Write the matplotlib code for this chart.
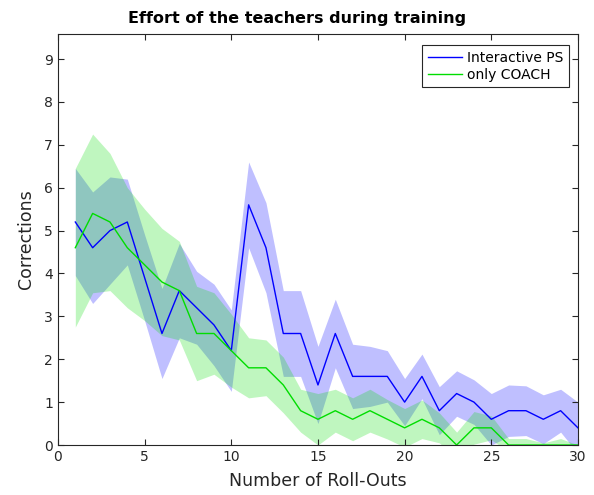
import numpy as np
import matplotlib
matplotlib.use('Agg')
import matplotlib.pyplot as plt

# roll-out index
rollouts = np.arange(1, 31)

# Interactive PS: mean corrections and spread
ips_mean = [5.2, 4.6, 5.0, 5.2, 3.9, 2.6, 3.6, 3.2, 2.8, 2.2,
            5.6, 4.6, 2.6, 2.6, 1.4, 2.6, 1.6, 1.6, 1.6, 1.0,
            1.6, 0.8, 1.2, 1.0, 0.6, 0.8, 0.8, 0.6, 0.8, 0.4]
ips_std = [1.25, 1.3, 1.25, 1.0, 1.0, 1.05, 1.1, 0.85, 0.95, 0.95,
           1.0, 1.05, 1.0, 1.0, 0.9, 0.8, 0.75, 0.7, 0.6, 0.55,
           0.52, 0.56, 0.53, 0.52, 0.6, 0.6, 0.58, 0.57, 0.5, 0.6]

# only COACH: mean corrections and spread
coach_mean = [4.6, 5.4, 5.2, 4.6, 4.2, 3.8, 3.6, 2.6, 2.6, 2.2,
              1.8, 1.8, 1.4, 0.8, 0.6, 0.8, 0.6, 0.8, 0.6, 0.4,
              0.6, 0.4, 0.0, 0.4, 0.4, 0.0, 0.0, 0.0, 0.0, 0.0]
coach_std = [1.85, 1.85, 1.6, 1.4, 1.3, 1.25, 1.15, 1.1, 0.95, 0.85,
             0.7, 0.65, 0.65, 0.5, 0.6, 0.5, 0.5, 0.5, 0.46, 0.45,
             0.45, 0.35, 0.3, 0.38, 0.28, 0.15, 0.15, 0.05, 0.15, 0.0]

blue = '#0000ff'
green = '#00dd00'
axcol = '#262626'

ips_mean = np.array(ips_mean)
ips_std = np.array(ips_std)
coach_mean = np.array(coach_mean)
coach_std = np.array(coach_std)

fig = plt.figure(figsize=(5.94, 4.95), dpi=100)
ax = fig.add_axes([0.0976, 0.101, 0.8754, 0.830])

ax.fill_between(rollouts, ips_mean - ips_std, ips_mean + ips_std,
                color=blue, alpha=0.25, linewidth=0)
ax.fill_between(rollouts, coach_mean - coach_std, coach_mean + coach_std,
                color=green, alpha=0.25, linewidth=0)
ax.plot(rollouts, ips_mean, color=blue, lw=1.0, label='Interactive PS')
ax.plot(rollouts, coach_mean, color=green, lw=1.0, label='only COACH')

ax.set_xlim(0, 30)
ax.set_ylim(0, 9.58)
ax.set_xticks(range(0, 31, 5))
ax.set_yticks(range(0, 10))

ax.tick_params(direction='in', top=True, right=True, length=4,
               labelsize=10, colors=axcol, width=0.8)
for s in ax.spines.values():
    s.set_color(axcol)
    s.set_linewidth(0.8)

# title sits a little left of the axes centre in the original
ax.set_title('Effort of the teachers during training', fontsize=11.5,
             fontweight='bold', pad=8, x=0.46)
ax.set_xlabel('Number of Roll-Outs', fontsize=12.5, color=axcol, labelpad=6)
ax.set_ylabel('Corrections', fontsize=12.5, color=axcol, labelpad=7)

leg = ax.legend(loc='upper right', fontsize=10, handlelength=2.5,
                fancybox=False, framealpha=1, edgecolor=axcol,
                bbox_to_anchor=(0.983, 0.973),
                borderaxespad=0.0, borderpad=0.4, labelspacing=0.2,
                handletextpad=0.35)
leg.get_frame().set_linewidth(0.8)

fig.savefig('out.png', dpi=100)
